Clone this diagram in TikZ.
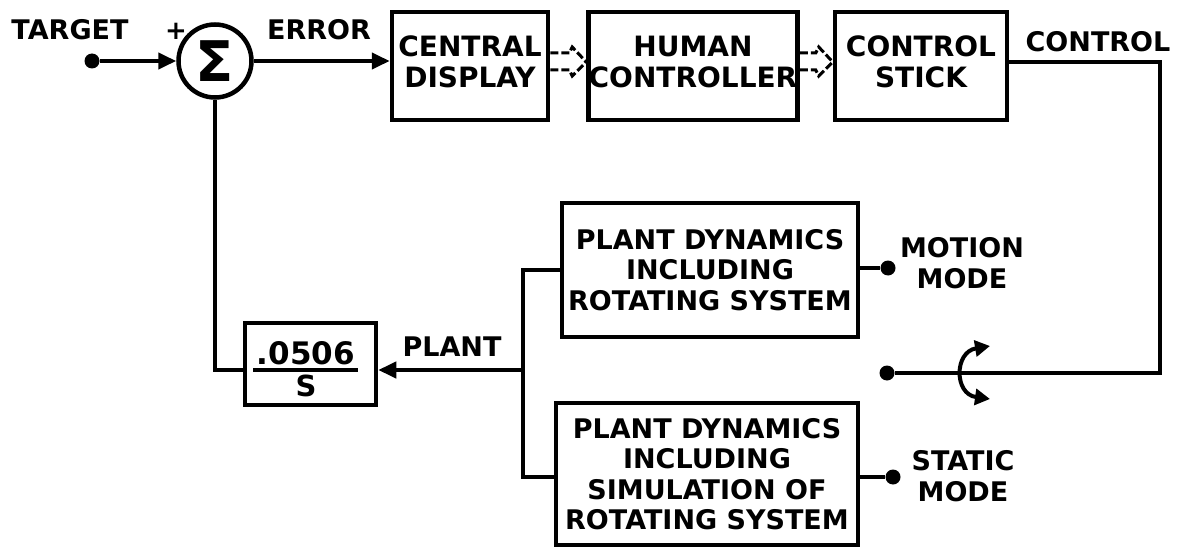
\documentclass[tikz,border=0pt]{standalone}
\usepackage{fontspec}
\setmainfont{DejaVu Sans}
\usetikzlibrary{arrows.meta,calc}

\begin{document}
\begin{tikzpicture}[x=1pt,y=-1pt,
  every node/.style={font=\fontsize{27}{30.5}\selectfont\bfseries, align=center},
  big/.style={font=\fontsize{28}{31}\selectfont\bfseries},
  box/.style={draw, line width=4.5pt, inner sep=0pt},
  wire/.style={line width=4pt},
  arr/.style={wire, -{Triangle[length=18pt,width=16pt]}},
  dsh/.style={line width=3pt, dash pattern=on 8pt off 3pt},
  dot/.style={circle, fill, inner sep=0pt, minimum size=15pt},
  swarr/.style={line width=4pt, {Triangle[length=15pt,width=16pt]}-{Triangle[length=15pt,width=16pt]}}]
\useasboundingbox (0,0) rectangle (1179,551);

% nodes
\node[dot] (tgt) at (92,61) {};
\node[draw, circle, line width=4.5pt, minimum size=73pt, inner sep=0pt,
      font=\fontsize{56}{56}\selectfont\bfseries] (sum) at (215,61) {Σ};
\node[box, big, minimum width=156pt, minimum height=108pt, text depth=8pt] (cd) at (470,66) {CENTRAL\\DISPLAY};
\node[box, big, minimum width=209pt, minimum height=108pt, text depth=8pt] (hc) at (693,66) {HUMAN\\CONTROLLER};
\node[box, big, minimum width=172pt, minimum height=108pt, text depth=8pt] (cs) at (921,66) {CONTROL\\STICK};
\node[box, minimum width=131pt, minimum height=82pt] (gain) at (310.5,364) {};
\node[box, minimum width=296pt, minimum height=134pt] (b1) at (710,270)
  {PLANT DYNAMICS\\INCLUDING\\ROTATING SYSTEM};
\node[box, minimum width=302pt, minimum height=142pt] (b2) at (707,474)
  {PLANT DYNAMICS\\INCLUDING\\SIMULATION OF\\ROTATING SYSTEM};
\node[dot] (md) at (888,268) {};
\node[dot] (sd) at (893,477) {};
\node[dot] (sw) at (887,373) {};

% labels
\node (ltarget) at (70,30) {TARGET};
\node[font=\fontsize{26}{26}\selectfont\bfseries] (lplus) at (176,31) {+};
\node (lerror) at (319,30) {ERROR};
\node (lcontrol) at (1098,42) {CONTROL};
\node (lplant) at (452,347) {PLANT};
\node (lmotion) at (962,263) {MOTION\\MODE};
\node (lstatic) at (963,476) {STATIC\\MODE};
\node[anchor=base, font=\fontsize{31}{31}\selectfont\bfseries] (num) at (306,364) {.0506};
\node[anchor=base, font=\fontsize{29}{29}\selectfont\bfseries] (den) at (306,396) {S};
\draw[wire] (253,370) -- (358,370);

% coordinates
\coordinate (c1) at (1160,0);
\coordinate (fb) at (215,370);
\coordinate (j) at (523,370);
\coordinate (jt) at (523,270);
\coordinate (jb) at (523,477);

% connectors
\draw[arr] (tgt) -- (sum);
\draw[arr] (sum.east) -- (sum.east -| cd.west);
\foreach \a/\b in {cd/hc, hc/cs} {
  \draw[dsh] ($(\a.east)+(0,-13)$) -- ($(\b.west)+(-17,-13)$) -- ($(\b.west)+(-14,-19)$) -- ($(\b.west)+(0,-4)$);
  \draw[dsh] ($(\a.east)+(0,4)$) -- ($(\b.west)+(-17,4)$) -- ($(\b.west)+(-14,10)$) -- ($(\b.west)+(0,-4)$);
}
\draw[wire] ($(cs.east)+(0,-4)$) -- ($(cs.east -| c1)+(0,-4)$) -- (c1 |- sw) -- (sw);
\draw[swarr] (990,346) .. controls (954,352) and (954,394) .. (990,399);
\draw[wire] (sum.south) -- (fb) -- (fb -| gain.west);
\draw[arr] (j) -- (j -| gain.east);
\draw[wire] (jt -| b1.west) -- (jt) -- (jb) -- (jb -| b2.west);
\draw[wire] (b1.east |- md) -- (md);
\draw[wire] (sd -| b2.east) -- (sd);
\end{tikzpicture}
\end{document}
